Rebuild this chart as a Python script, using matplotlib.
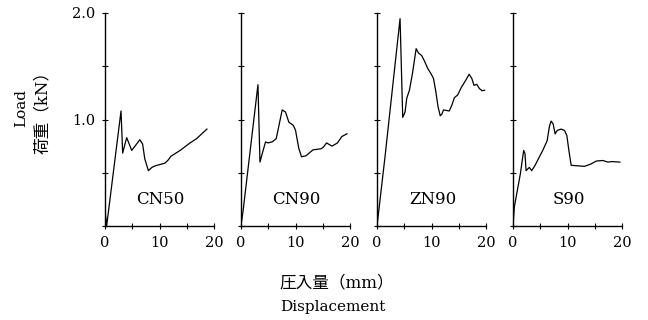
import matplotlib
matplotlib.use('Agg')
import matplotlib.pyplot as plt

plt.rcParams['font.family'] = ['DejaVu Serif', 'Noto Sans CJK JP']
plt.rcParams['font.size'] = 10.5

# load-displacement curves (mm, kN)
cn50_x = [0, 0.3, 2.94, 3.24, 3.98, 4.9, 6.4, 6.9, 7.3, 7.96, 8.6, 9.2,
          11.0, 11.6, 12.1, 13.8, 15.6, 16.8, 18.7]
cn50_y = [0.15, 0.0, 1.08, 0.685, 0.83, 0.71, 0.81, 0.77, 0.63, 0.52, 0.55,
          0.565, 0.59, 0.62, 0.655, 0.71, 0.78, 0.82, 0.91]

cn90_x = [0, 0.4, 3.11, 3.48, 3.9, 4.5, 4.94, 5.73, 6.46, 6.95, 7.56, 8.17,
          8.78, 9.6, 10.0, 10.6, 11.1, 11.95, 13.2, 14.7, 15.1, 15.7, 16.7,
          17.7, 18.5, 19.45]
cn90_y = [0.0, 0.15, 1.327, 0.60, 0.68, 0.79, 0.78, 0.79, 0.82, 0.94, 1.09,
          1.07, 0.975, 0.945, 0.90, 0.73, 0.65, 0.66, 0.715, 0.725, 0.74,
          0.78, 0.75, 0.78, 0.84, 0.866]

zn90_x = [0, 1.47, 4.23, 4.72, 5.15, 5.46, 5.95, 6.5, 7.18, 7.6, 8.2, 8.7,
          9.3, 9.9, 10.37, 10.8, 11.2, 11.6, 11.9, 12.2, 13.25, 13.7, 14.2,
          14.8, 15.46, 16.3, 16.9, 17.4, 17.8, 18.3, 18.8, 19.3, 19.75]
zn90_y = [0.0, 0.65, 1.947, 1.02, 1.07, 1.20, 1.275, 1.43, 1.665, 1.625,
          1.60, 1.55, 1.48, 1.43, 1.385, 1.26, 1.12, 1.035, 1.05, 1.09, 1.08,
          1.13, 1.205, 1.23, 1.30, 1.37, 1.425, 1.385, 1.32, 1.33, 1.29,
          1.27, 1.275]

s90_x = [0, 0.25, 1.35, 1.96, 2.2, 2.4, 3.0, 3.44, 4.05, 4.85, 5.46, 6.26,
         6.7, 7.0, 7.36, 7.73, 8.1, 8.83, 9.45, 9.88, 10.25, 10.67, 13.1,
         14.2, 15.3, 16.5, 17.4, 18.1, 19.6]
s90_y = [0.0, 0.18, 0.49, 0.71, 0.68, 0.52, 0.55, 0.52, 0.57, 0.65, 0.71,
         0.80, 0.94, 0.985, 0.96, 0.865, 0.897, 0.91, 0.897, 0.85, 0.71,
         0.57, 0.56, 0.58, 0.61, 0.615, 0.60, 0.605, 0.60]

names = ['CN50', 'CN90', 'ZN90', 'S90']
xs = [cn50_x, cn90_x, zn90_x, s90_x]
ys = [cn50_y, cn90_y, zn90_y, s90_y]

fig = plt.figure(figsize=(6.48, 3.2), dpi=100)
W, H = 648, 320
left0, step, aw = 105, 136, 109     # panel geometry in pixels
bottom, top = 226, 13

for i, (name, x, y) in enumerate(zip(names, xs, ys)):
    ax = fig.add_axes([(left0 + i * step) / W, 1 - bottom / H,
                       aw / W, (bottom - top) / H])
    ax.plot(x, y, color='black', lw=0.9)
    ax.set_xlim(0, 20)
    ax.set_ylim(0, 2.0)
    ax.spines[['top', 'right']].set_visible(False)
    for s in ['left', 'bottom']:
        ax.spines[s].set_linewidth(1.0)
    ax.set_xticks([0, 5, 10, 15, 20])
    ax.set_xticklabels(['0', '', '10', '', '20'])
    ax.set_yticks([0, 0.5, 1.0, 1.5, 2.0])
    if i == 0:
        ax.set_yticklabels(['', '', '1.0', '', '2.0'])
    else:
        ax.set_yticklabels([])
    ax.tick_params(direction='inout', length=4, width=0.8, pad=5,
                   labelsize=10.5, colors='black')
    ax.text(10.2, 0.25, name, ha='center', va='center', fontsize=12)

fig.text(21 / W, 1 - 108 / H, 'Load', rotation=90,
         ha='center', va='center', fontsize=11)
fig.text(42 / W, 1 - 108 / H, '荷重（kN）', rotation=90,
         ha='center', va='center', fontsize=12)
fig.text(337 / W, 1 - 283 / H, '圧入量（mm）',
         ha='center', va='center', fontsize=12)
fig.text(333 / W, 1 - 307 / H, 'Displacement',
         ha='center', va='center', fontsize=11)

fig.savefig('out.png', dpi=100)
